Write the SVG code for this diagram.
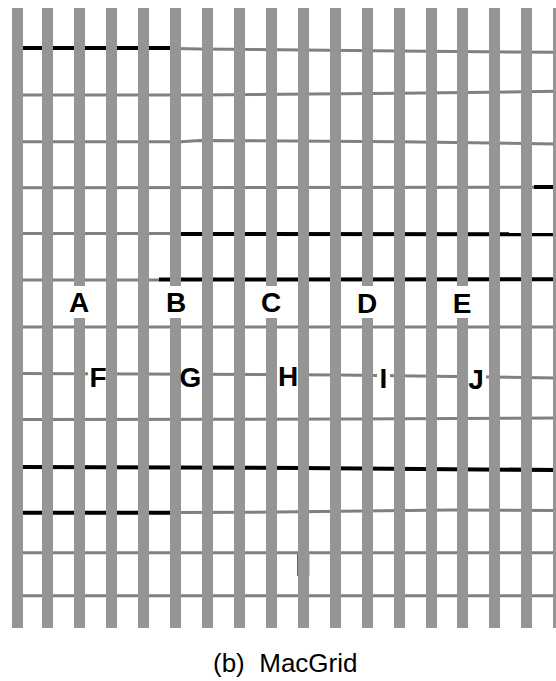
<svg xmlns="http://www.w3.org/2000/svg" width="556" height="681" viewBox="0 0 556 681">
  <style>
    .g { fill: none; stroke: #808080; stroke-width: 3; }
    .k { fill: none; stroke: #000000; stroke-width: 4; }
    .bar { fill: #959595; }
    .bg { fill: #ffffff; }
    .lbl { font-family: "Liberation Sans", Arial, sans-serif; font-weight: bold; font-size: 28px; fill: #000; text-anchor: middle; }
    .cap { font-family: "Liberation Sans", Arial, sans-serif; font-size: 26px; fill: #000; }
  </style>
  <rect width="556" height="681" fill="#ffffff"/>

  <g id="connectors">
    <!-- horizontal grid rows -->
    <polyline class="k" points="21,48 175,48"/>
    <polyline class="g" points="175,48.5 200,49 400,51 556,52.3"/>
    <polyline class="g" points="21,95 200,95 400,93.3 556,91.3"/>
    <polyline class="g" points="21,141.7 181,141.7 200,140.5 400,141.7 556,144"/>
    <polyline class="g" points="21,187.7 534,187.3"/>
    <polyline class="k" points="534,187 556,187"/>
    <polyline class="g" points="21,233.5 181,233.5"/>
    <polyline class="k" points="181,234 556,234.3"/>
    <polyline class="g" points="21,280 159,280"/>
    <polyline class="k" points="159,279.5 556,279.3"/>
    <polyline class="g" points="21,327 556,327"/>
    <polyline class="g" points="21,373.5 340,375 556,378"/>
    <polyline class="g" points="21,419.5 350,419 556,418"/>
    <polyline class="k" points="21,467 300,468 556,470"/>
    <polyline class="k" points="21,512.7 175,512.7"/>
    <polyline class="g" points="175,512.5 250,512.3 450,510 556,510.5"/>
    <polyline class="g" points="21,552.7 556,552.7"/>
    <polyline class="g" points="21,595.7 556,595.7"/>
  </g>

  <g id="row-label-backgrounds">
    <rect class="bg" x="88" y="365" width="20" height="24"/>
    <rect class="bg" x="181" y="364" width="21" height="25"/>
    <rect class="bg" x="277" y="363" width="22" height="25"/>
    <rect class="bg" x="377" y="364" width="13" height="25"/>
    <rect class="bg" x="466" y="365" width="20" height="26"/>
  </g>

  <g id="bars">
    <rect class="bar" x="12" y="8" width="11" height="620"/>
    <rect class="bar" x="42" y="8" width="11" height="620"/>
    <rect class="bar" x="74" y="8" width="11" height="620"/>
    <rect class="bar" x="106" y="8" width="11" height="620"/>
    <rect class="bar" x="138" y="8" width="11" height="620"/>
    <rect class="bar" x="170" y="8" width="11" height="620"/>
    <rect class="bar" x="202" y="8" width="11" height="620"/>
    <rect class="bar" x="234" y="8" width="11" height="620"/>
    <rect class="bar" x="266" y="8" width="11" height="620"/>
    <rect class="bar" x="298" y="8" width="11" height="620"/>
    <rect class="bar" x="330" y="8" width="11" height="620"/>
    <rect class="bar" x="362" y="8" width="11" height="620"/>
    <rect class="bar" x="394" y="8" width="11" height="620"/>
    <rect class="bar" x="426" y="8" width="11" height="620"/>
    <rect class="bar" x="457" y="8" width="11" height="620"/>
    <rect class="bar" x="489" y="8" width="11" height="620"/>
    <rect class="bar" x="521" y="8" width="11" height="620"/>
    <rect class="bar" x="553" y="8" width="11" height="620"/>
    <line x1="297.5" y1="554" x2="297.5" y2="576" stroke="#666666" stroke-width="1"/>
    <line x1="309.5" y1="554" x2="309.5" y2="576" stroke="#cccccc" stroke-width="1"/>
  </g>

  <g id="node-A"><rect class="bg" x="66" y="286" width="26" height="32"/><text class="lbl" x="79" y="312">A</text></g>
  <g id="node-B"><rect class="bg" x="163" y="286" width="26" height="32"/><text class="lbl" x="176" y="312">B</text></g>
  <g id="node-C"><rect class="bg" x="258" y="286" width="26" height="32"/><text class="lbl" x="271" y="312">C</text></g>
  <g id="node-D"><rect class="bg" x="354" y="286" width="26" height="32"/><text class="lbl" x="367" y="313">D</text></g>
  <g id="node-E"><rect class="bg" x="449" y="286" width="26" height="32"/><text class="lbl" x="462" y="313">E</text></g>
  <g id="node-F"><text class="lbl" x="98" y="387">F</text></g>
  <g id="node-G"><text class="lbl" x="190.5" y="387">G</text></g>
  <g id="node-H"><text class="lbl" x="288" y="386">H</text></g>
  <g id="node-I"><text class="lbl" x="383.5" y="388">I</text></g>
  <g id="node-J"><text class="lbl" x="476" y="389">J</text></g>

  <g id="caption">
    <text class="cap" x="213" y="672" xml:space="preserve" style="white-space:pre">(b)  MacGrid</text>
  </g>
</svg>
